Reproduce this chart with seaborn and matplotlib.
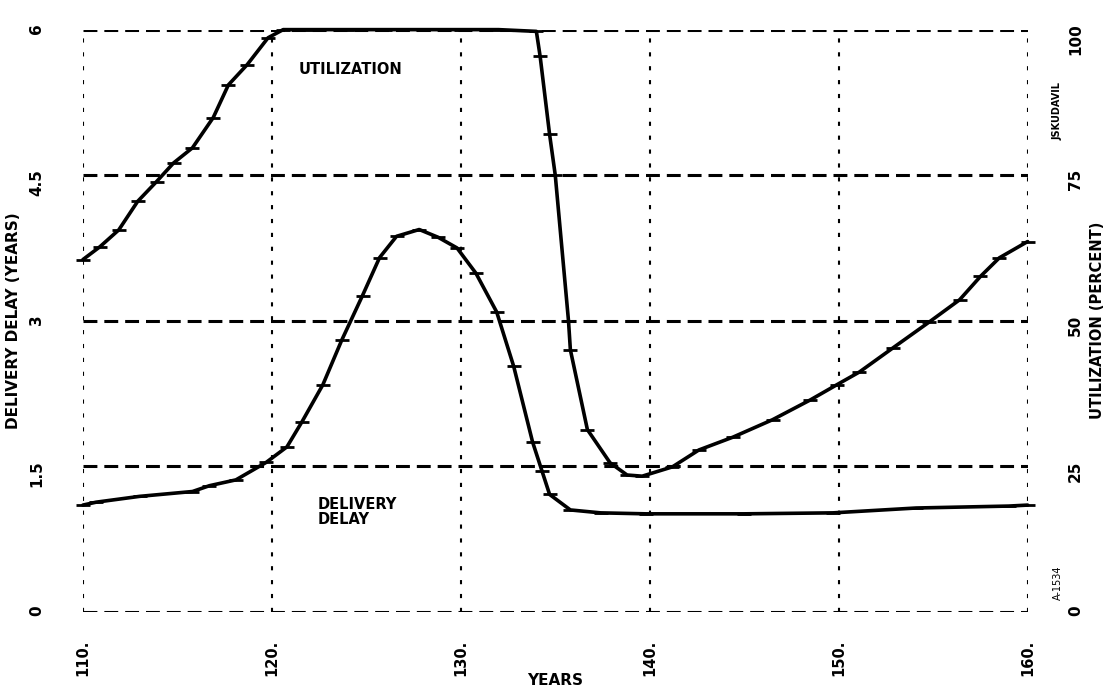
import numpy as np
import pandas as pd
import seaborn as sns
import matplotlib.pyplot as plt

# utilization curve (percent)
years_util = [110, 110.9, 111.9, 112.9, 113.9, 114.8, 115.8, 116.9, 117.7, 118.7,
              119.8, 120.6, 122, 124, 126, 128, 130, 132, 134.0, 134.2,
              134.7, 135.0, 135.7, 135.8, 136.7, 137.9, 138.8, 139.6, 141.2, 142.6,
              144.4, 146.5, 148.5, 149.9, 151.1, 152.9, 154.8, 156.4, 157.5, 158.5, 160]
utilization = [60.5, 62.7, 65.6, 70.5, 73.9, 77.1, 79.7, 84.9, 90.5, 94,
               98.6, 100, 100, 100, 100, 100, 100, 100, 99.7, 95.4,
               82, 75, 50, 45, 31.3, 25.6, 23.5, 23.3, 24.9, 27.8,
               30, 33, 36.4, 39, 41.2, 45.4, 49.8, 53.6, 57.6, 60.8, 63.6]

# delivery delay curve (years)
years_delay = [110, 110.7, 113, 115.8, 116.7, 118.1, 119.7, 120.8, 121.6, 122.7,
               123.7, 124.8, 125.7, 126.6, 127.8, 128.8, 129.8, 130.8, 131.9, 132.8,
               133.8, 134.3, 134.7, 135.8, 137.4, 139.8, 145, 149.7, 154.1, 159.0, 160]
delivery_delay = [1.10, 1.13, 1.19, 1.24, 1.30, 1.36, 1.54, 1.70, 1.96, 2.34,
                  2.80, 3.26, 3.65, 3.87, 3.94, 3.86, 3.75, 3.49, 3.09, 2.53,
                  1.75, 1.45, 1.21, 1.05, 1.02, 1.01, 1.01, 1.02, 1.07, 1.09, 1.10]

x_ticks = [110, 120, 130, 140, 150, 160]
x_tick_labels = ["110.", "120.", "130.", "140.", "150.", "160."]
delay_ticks = [0, 1.5, 3, 4.5, 6]
delay_tick_labels = ["0", "1.5", "3", "4.5", "6"]
util_ticks = [0, 25, 50, 75, 100]
util_tick_labels = ["0", "25", "50", "75", "100"]

sns.set_style("white")
plt.rcParams['font.family'] = ['DejaVu Sans']
plt.rcParams['lines.scale_dashes'] = False
plt.rcParams['text.color'] = 'black'
plt.rcParams['axes.labelcolor'] = 'black'
plt.rcParams['xtick.color'] = 'black'
plt.rcParams['ytick.color'] = 'black'

fig = plt.figure(figsize=(11.05, 6.89), dpi=100)
ax = fig.add_axes([0.075, 0.112, 0.855, 0.845])
ax2 = ax.twinx()

df_delay = pd.DataFrame({"year": years_delay, "delay": delivery_delay})
df_util = pd.DataFrame({"year": years_util, "util": utilization})

sns.lineplot(data=df_delay, x="year", y="delay", ax=ax, color="black", lw=2.6,
             marker="_", markersize=10, markeredgewidth=2, markeredgecolor="black",
             clip_on=False)
sns.lineplot(data=df_util, x="year", y="util", ax=ax2, color="black", lw=2.6,
             marker="_", markersize=10, markeredgewidth=2, markeredgecolor="black",
             clip_on=False)

ax.set_xlim(110, 160)
ax.set_ylim(0, 6)
ax2.set_ylim(0, 100)

ax.set_xticks(x_ticks)
ax.set_xticklabels(x_tick_labels)
ax.set_yticks(delay_ticks)
ax.set_yticklabels(delay_tick_labels)
ax2.set_yticks(util_ticks)
ax2.set_yticklabels(util_tick_labels)

# dashed grid like the plotter output
ax.grid(axis="y", linestyle=(0, (10, 5)), lw=2.2, color="black")
ax.grid(axis="x", linestyle=(0, (3, 7)), lw=1.5, color="black")
ax2.grid(False)

for a in (ax, ax2):
    for s in a.spines.values():
        s.set_visible(False)

ax.tick_params(axis="x", length=0, pad=20, labelsize=10.5, labelrotation=90)
ax.tick_params(axis="y", length=0, pad=28, labelsize=11, labelrotation=90)
ax2.tick_params(axis="y", length=0, pad=29, labelsize=11, labelrotation=90)
for lab in ax.get_xticklabels() + ax.get_yticklabels() + ax2.get_yticklabels():
    lab.set_fontweight("bold")

ax.set_xlabel("YEARS", fontsize=11, fontweight="bold")
ax.xaxis.set_label_coords(0.5, -0.105)
ax.set_ylabel("DELIVERY DELAY (YEARS)", fontsize=11, fontweight="bold")
ax.yaxis.set_label_coords(-0.066, 0.5)
ax2.set_ylabel("UTILIZATION (PERCENT)", fontsize=10.5, fontweight="bold", rotation=90)
ax2.yaxis.set_label_coords(1.066, 0.5)

ax.text(121.4, 5.59, "UTILIZATION", fontsize=10.5, fontweight="bold",
        va="center", ha="left")
ax.text(122.4, 1.18, "DELIVERY\nDELAY", fontsize=10.5, fontweight="bold",
        va="top", ha="left", linespacing=0.95)
ax.text(1.032, 0.86, "JSKUDAVIL", transform=ax.transAxes, fontsize=7,
        fontweight="bold", rotation=90, ha="center", va="center")
ax.text(1.032, 0.05, "A-1534", transform=ax.transAxes, fontsize=7,
        rotation=90, ha="center", va="center")

fig.savefig("out.png", dpi=100)
